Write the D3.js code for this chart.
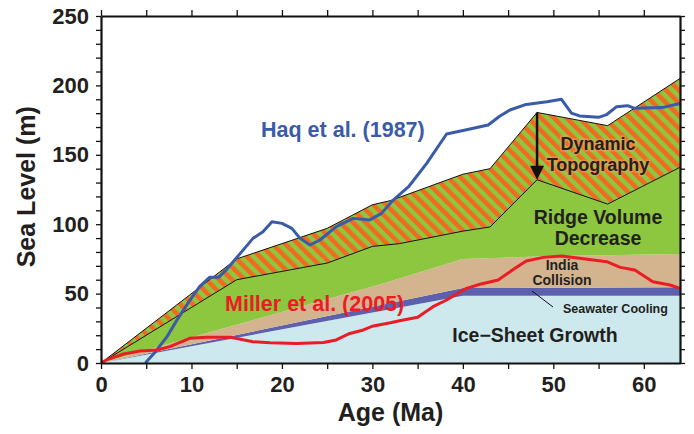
<!DOCTYPE html>
<html>
<head>
<meta charset="utf-8">
<script src="https://cdn.jsdelivr.net/npm/d3@7"></script>
<style>
  body { margin: 0; background: #fff; }
  text { font-family: "Liberation Sans", Arial, sans-serif; font-weight: bold; }
</style>
</head>
<body>
<div id="chart"></div>
<script>
// layer tops (cumulative sea level, m) against age (Ma)
var iceAge = [0, 40, 64];
var iceTop = [0, 48.5, 48.5];
var coolAge = [0, 40, 64];
var coolTop = [0, 54, 54.5];
var indiaAge = [0, 31, 40, 50, 64];
var indiaTop = [0, 57, 75, 77, 78.5];
var ridgeAge = [0, 15, 25, 30, 33, 40, 43, 48.2, 56, 64];
var ridgeTop = [0, 60, 72, 84, 86, 95, 98, 132, 114.5, 141];
var dynAge = [0, 15, 25, 30, 32, 40, 43, 48.2, 56, 64];
var dynTop = [0, 75, 97, 114, 117, 136, 140, 180.5, 171, 205];

// sea level curves
var haqAge = [4.9, 6, 7.3, 8.5, 9.8, 10.9, 12, 13, 13.9, 15.4, 16.8, 17.9, 18.9, 20, 21.1, 22, 23.1, 24.2, 26, 27.9, 29.7, 31, 32.3, 34, 36, 38.2, 40.4, 42.8, 44.1, 45.2, 47, 49.3, 50.9, 52, 52.9, 55, 55.9, 57, 58.2, 59, 62, 64];
var haqVal = [0, 8, 19, 32, 45, 55, 61.7, 61.7, 67.5, 79, 89.8, 94.6, 101.8, 100.6, 97, 89.8, 85, 88.6, 98.2, 104.2, 103, 107.8, 117.4, 127, 143.8, 165, 168, 171.5, 178, 182.3, 186.3, 188.2, 190, 180, 178, 177, 179, 184.7, 185.4, 183.5, 184, 187];
var millerAge = [0, 0.6, 2.5, 4.3, 6.2, 7.6, 9.8, 11.7, 14.3, 16.8, 18.7, 21.6, 24.6, 26, 27.5, 29, 30.1, 32, 33, 35, 36.7, 38.2, 40.4, 41.9, 43.9, 45.6, 47, 48.9, 50.9, 52.9, 55.9, 57.4, 59, 61, 62.9, 64];
var millerVal = [0, 2.2, 6.5, 8.6, 9.4, 11.8, 17.8, 18.5, 18.5, 15.3, 14.6, 14.1, 14.8, 16.6, 21.3, 23.8, 26.7, 29, 30.5, 32.9, 40.6, 45.4, 53.8, 56.7, 59.8, 67.5, 73.5, 76.1, 77.1, 75.4, 73, 68.9, 67, 58.6, 56.2, 53.8];

var xTicks = [0, 10, 20, 30, 40, 50, 60];
var yTicks = [0, 50, 100, 150, 200, 250];

var w = 694, h = 434;
var x = d3.scaleLinear().domain([0, 64]).range([101, 680]);
var y = d3.scaleLinear().domain([0, 250]).range([363, 16]);

var svg = d3.select("#chart").append("svg")
    .attr("width", w)
    .attr("height", h);

var defs = svg.append("defs");
var pat = defs.append("pattern")
    .attr("id", "hatch")
    .attr("patternUnits", "userSpaceOnUse")
    .attr("width", 9)
    .attr("height", 9)
    .attr("patternTransform", "rotate(-45)");
pat.append("rect").attr("width", 9).attr("height", 9).attr("fill", "#8dc63f");
pat.append("rect").attr("width", 4.5).attr("height", 9).attr("fill", "#f26a21");

defs.append("clipPath").attr("id", "plot-clip")
    .append("rect")
    .attr("x", x(0)).attr("y", y(250))
    .attr("width", x(64) - x(0)).attr("height", y(0) - y(250));

function pts(ages, vals) {
    return ages.map(function (a, i) { return [a, vals[i]]; });
}
var line = d3.line()
    .x(function (d) { return x(d[0]); })
    .y(function (d) { return y(d[1]); });

// band between two boundaries
function band(upA, upV, loA, loV) {
    var p = pts(upA, upV).concat(pts(loA, loV).reverse());
    return line(p) + "Z";
}

var plot = svg.append("g").attr("clip-path", "url(#plot-clip)");

plot.append("path").attr("d", band(iceAge, iceTop, [0, 64], [0, 0])).attr("fill", "#cde9ee");
plot.append("path").attr("d", band(coolAge, coolTop, iceAge, iceTop)).attr("fill", "#5c60ad");
plot.append("path").attr("d", band(indiaAge, indiaTop, coolAge, coolTop)).attr("fill", "#d4b48e");
plot.append("path").attr("d", band(ridgeAge, ridgeTop, indiaAge, indiaTop)).attr("fill", "#8dc63f");
plot.append("path").attr("d", band(dynAge, dynTop, ridgeAge, ridgeTop)).attr("fill", "url(#hatch)");

plot.append("path").attr("d", line(pts(ridgeAge, ridgeTop)))
    .attr("fill", "none").attr("stroke", "#111").attr("stroke-width", 1);
plot.append("path").attr("d", line(pts(dynAge, dynTop)))
    .attr("fill", "none").attr("stroke", "#111").attr("stroke-width", 1);

// arrow for dynamic topography
var arrowAge = 48.2;
plot.append("line")
    .attr("x1", x(arrowAge)).attr("x2", x(arrowAge))
    .attr("y1", y(180.5)).attr("y2", y(140))
    .attr("stroke", "#111").attr("stroke-width", 2.5);
plot.append("path")
    .attr("d", "M" + (x(arrowAge) - 7) + "," + (y(132) - 14) + "L" + (x(arrowAge) + 7) + "," + (y(132) - 14) +
        "L" + x(arrowAge) + "," + y(132) + "Z")
    .attr("fill", "#111");

plot.append("path").attr("d", line(pts(haqAge, haqVal)))
    .attr("fill", "none").attr("stroke", "#3a5ba9").attr("stroke-width", 3)
    .attr("stroke-linejoin", "round");
plot.append("path").attr("d", line(pts(millerAge, millerVal)))
    .attr("fill", "none").attr("stroke", "#ec1c24").attr("stroke-width", 3)
    .attr("stroke-linejoin", "round");

// axes
var d5 = d3.range(0, 65, 5);
var d10 = d3.range(0, 251, 10);
function style(g) {
    g.select(".domain").attr("stroke", "#111").attr("stroke-width", 2.2);
    g.selectAll(".tick line").attr("stroke", "#111").attr("stroke-width", 1.3);
    g.selectAll(".tick text").attr("fill", "#231f20").attr("font-size", 22);
}
svg.append("g").attr("transform", "translate(0," + y(0) + ")")
    .call(d3.axisBottom(x).tickValues(d5).tickSize(6).tickSizeOuter(0).tickPadding(7)
        .tickFormat(function (d) { return xTicks.indexOf(d) >= 0 ? d : ""; }))
    .call(style);
svg.append("g").attr("transform", "translate(0," + y(250) + ")")
    .call(d3.axisTop(x).tickValues(d5).tickSize(6).tickSizeOuter(0).tickFormat(""))
    .call(style);
svg.append("g").attr("transform", "translate(" + x(0) + ",0)")
    .call(d3.axisLeft(y).tickValues(d10).tickSize(5).tickSizeOuter(0).tickPadding(7)
        .tickFormat(function (d) { return yTicks.indexOf(d) >= 0 ? d : ""; }))
    .call(style);
svg.append("g").attr("transform", "translate(" + x(64) + ",0)")
    .call(d3.axisRight(y).tickValues(d10).tickSize(5).tickSizeOuter(0).tickFormat(""))
    .call(style);

svg.append("text")
    .attr("x", x(32)).attr("y", 421)
    .attr("text-anchor", "middle").attr("font-size", 25).attr("fill", "#231f20")
    .text("Age (Ma)");
svg.append("text")
    .attr("transform", "translate(35," + y(127) + ") rotate(-90)")
    .attr("text-anchor", "middle").attr("font-size", 25).attr("fill", "#231f20")
    .text("Sea Level (m)");

// labels
svg.append("text").attr("x", 261).attr("y", 137).attr("font-size", 21.5)
    .attr("fill", "#3a5ba9").text("Haq et al. (1987)");
svg.append("text").attr("x", 225).attr("y", 311).attr("font-size", 21.5)
    .attr("fill", "#ec1c24").text("Miller et al. (2005)");

function label(txt, cx, cy, size) {
    return svg.append("text").attr("x", cx).attr("y", cy)
        .attr("text-anchor", "middle").attr("font-size", size)
        .attr("fill", "#231f20").text(txt);
}
[label("Dynamic", 598, 150, 18), label("Topography", 598, 171, 18)].forEach(function (t) {
    t.attr("stroke", "#f4a060").attr("stroke-width", 3).attr("stroke-opacity", 0.55)
        .attr("paint-order", "stroke");
});
label("Ridge Volume", 598, 224, 19.5);
label("Decrease", 598, 245, 19.5);
label("India", 562, 270, 14);
label("Collision", 562, 285, 14);
label("Ice\u2212Sheet Growth", 535, 342, 19.5);

svg.append("line")
    .attr("x1", 532).attr("y1", 291).attr("x2", 553).attr("y2", 307)
    .attr("stroke", "#111").attr("stroke-width", 1);
svg.append("text").attr("x", 563).attr("y", 313).attr("font-size", 12.5)
    .attr("fill", "#231f20").text("Seawater Cooling");
</script>
</body>
</html>
